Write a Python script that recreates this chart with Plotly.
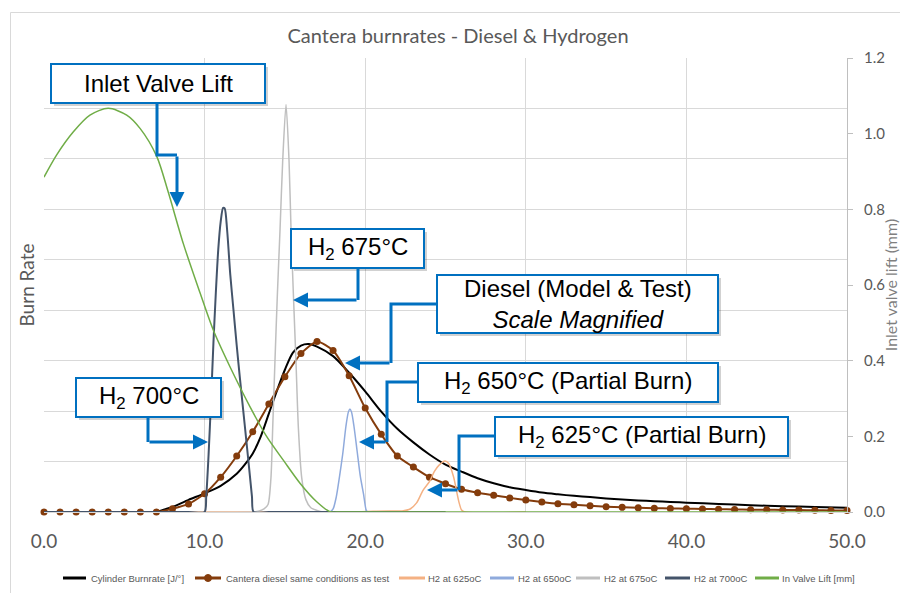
import plotly.graph_objects as go

# ---------------------------------------------------------------- data
series_names = [
    "Cylinder Burnrate [J/°]",
    "Cantera diesel same conditions as test",
    "H2 at 625oC",
    "H2 at 650oC",
    "H2 at 675oC",
    "H2 at 700oC",
    "In Valve Lift [mm]",
]

# measured cylinder burn rate (crank angle, burn rate)
cyl_x = [0, 7, 7.5, 8, 9, 10, 11, 12, 12.5, 13, 13.5, 14, 14.5, 15, 15.5, 16, 16.5, 17,
         18, 19, 20, 21, 22, 23, 24, 25, 26, 27, 28, 29, 30, 31, 32, 33, 34, 35,
         36, 37, 38, 39, 40, 42, 44, 46, 48, 50]
cyl_rate = [0, 0, 0.5, 1.0, 2.4, 3.7, 5.2, 7.6, 9.4, 11.6, 15.0, 19.5, 24.0, 28.2, 31.6,
            33.0, 33.3, 32.8, 30.9, 27.6, 23.9, 19.9, 16.5, 13.8, 11.4, 9.4, 8.0,
            6.7, 5.7, 4.9, 4.35, 3.85, 3.5, 3.2, 2.95, 2.7, 2.5, 2.3, 2.15, 2.0,
            1.85, 1.6, 1.35, 1.15, 1.0, 0.85]

# Cantera diesel model, one point per degree
diesel_x = list(range(0, 51))
diesel_rate = [0, 0, 0, 0, 0, 0, 0, 0, 0.65, 1.6, 3.6, 6.9, 11.1, 15.9, 21.4, 26.8,
               31.4, 33.8, 32.0, 27.0, 20.6, 15.4, 11.1, 8.9, 6.9, 5.6, 4.5, 3.8,
               3.3, 2.8, 2.4, 2.0, 1.65, 1.45, 1.25, 1.05, 0.93, 0.82, 0.75, 0.7,
               0.65, 0.6, 0.55, 0.5, 0.47, 0.44, 0.41, 0.38, 0.35, 0.32, 0.3]

# hydrogen burn rates at four intake temperatures
h2_625_x = [0, 19.5, 20.5, 21.5, 22.3, 22.8, 23.2, 23.6, 24.0, 24.3, 24.6, 24.97,
            25.2, 25.5, 25.7, 25.85, 26.0, 26.2, 30]
h2_625 = [0, 0, 0.15, 0.2, 0.2, 0.6, 1.8, 4.3, 6.0, 8.0, 9.3, 10.1, 9.6, 7.0, 4.0,
          1.8, 0.4, 0, 0]

h2_650_x = [0, 17.8, 18.0, 18.2, 18.4, 18.6, 18.8, 18.95, 19.05, 19.15, 19.3, 19.5,
            19.7, 19.9, 20.05, 20.15, 25]
h2_650 = [0, 0, 0.6, 3.0, 7.0, 11.5, 17.0, 19.8, 20.4, 19.8, 17.0, 12.0, 7.0, 3.5,
          0.5, 0, 0]

h2_675_x = [0, 13.0, 13.4, 13.7, 13.95, 14.13, 14.24, 14.38, 14.53, 14.70, 14.86,
            15.07, 15.26, 15.38, 15.53, 15.69, 15.84, 16.05, 16.3, 16.6, 17.0, 17.4, 25]
h2_675 = [0, 0, 0.2, 0.6, 1.5, 6.7, 16.6, 29.8, 43.0, 56.2, 69.4, 80.8, 69.4, 56.2,
          43.0, 29.8, 16.6, 6.7, 2.5, 0.9, 0.3, 0, 0]

h2_700_x = [0, 9.0, 10.0, 10.1, 10.25, 10.4, 10.55, 10.7, 10.85, 11.0, 11.15, 11.25,
            11.4, 11.6, 11.8, 12.0, 12.2, 12.4, 12.6, 12.8, 12.95, 13.05, 14.0, 25]
h2_700 = [0, 0, 0, 3.0, 11.5, 22.0, 33.5, 43.5, 52.0, 57.5, 60.3, 60.2, 56.0, 47.0,
          40.0, 33.0, 26.5, 20.3, 14.1, 7.8, 3.0, 0, 0, 0]

# inlet valve lift (mm), secondary axis
lift_x = [0, 0.79, 1.83, 2.86, 4.0, 5.15, 5.98, 7.02, 7.74, 8.67, 9.71, 10.54,
          11.58, 12.83, 13.87, 14.9, 15.94, 16.98, 17.8, 18.5, 50]
lift_mm = [0.885, 0.944, 1.005, 1.049, 1.067, 1.049, 1.014, 0.94, 0.845, 0.71,
           0.58, 0.481, 0.384, 0.278, 0.199, 0.137, 0.076, 0.027, 0.001, 0, 0]

# ---------------------------------------------------------------- styling
colors = ["#000000", "#843C0C", "#F4B183", "#8FAADC", "#BFBFBF", "#44546A", "#70AD47"]
GRID = "#D9D9D9"
TEXT = "#595959"
CALLOUT = "#0070C0"
TICK_FONT = "Lato, Carlito, sans-serif"

W, H = 900, 593
PLOT_L, PLOT_R, PLOT_T, PLOT_B = 44, 847, 58, 512


def fx(p):
    """pixel column -> paper x"""
    return (p - PLOT_L) / (PLOT_R - PLOT_L)


def fy(p):
    """pixel row -> paper y"""
    return (PLOT_B - p) / (PLOT_B - PLOT_T)


fig = go.Figure()

fig.add_trace(go.Scatter(x=cyl_x, y=cyl_rate, name=series_names[0], mode="lines",
                         line=dict(color=colors[0], width=2, shape="spline", smoothing=0.8)))
fig.add_trace(go.Scatter(x=diesel_x, y=diesel_rate, name=series_names[1], mode="lines+markers",
                         line=dict(color=colors[1], width=2, shape="spline", smoothing=0.6),
                         marker=dict(color=colors[1], size=7), cliponaxis=False))
for i, (xs, ys) in enumerate([(h2_625_x, h2_625), (h2_650_x, h2_650),
                              (h2_675_x, h2_675), (h2_700_x, h2_700)]):
    fig.add_trace(go.Scatter(x=xs, y=ys, name=series_names[2 + i], mode="lines",
                             line=dict(color=colors[2 + i], width=2 if i == 3 else 1.5,
                                       shape="spline", smoothing=0.7)))
fig.add_trace(go.Scatter(x=lift_x, y=lift_mm, name=series_names[6], mode="lines", yaxis="y2",
                         line=dict(color=colors[6], width=1.5, shape="spline", smoothing=0.8)))

# ---------------------------------------------------------------- callouts
callouts = [
    dict(text="Inlet Valve Lift", box=(51, 64, 265, 103),
         path=[(157, 103), (157, 155), (177, 155)], tip=(177, 207)),
    dict(text="H<sub>2</sub> 675°C", box=(291, 229, 424, 268),
         path=[(358, 268), (358, 300)], tip=(293, 300)),
    dict(text="Diesel (Model & Test)<br><i>Scale Magnified</i>", box=(437, 275, 718, 333),
         path=[(437, 304), (391, 304), (391, 363)], tip=(345, 363)),
    dict(text="H<sub>2</sub> 650°C (Partial Burn)", box=(418, 363, 718, 402),
         path=[(418, 382), (387, 382), (387, 442)], tip=(359, 442)),
    dict(text="H<sub>2</sub> 625°C (Partial Burn)", box=(495, 417, 788, 456),
         path=[(495, 436), (459, 436), (459, 490)], tip=(427, 490)),
    dict(text="H<sub>2</sub> 700°C", box=(76, 378, 221, 417),
         path=[(148, 417), (148, 442)], tip=(208, 442)),
]

shapes = [
    # chart area frame
    dict(type="rect", xref="paper", yref="paper", x0=fx(10.5), x1=fx(905), y0=fy(12.5),
         y1=fy(600), line=dict(color=GRID, width=1), fillcolor="rgba(0,0,0,0)", layer="below"),
]
annotations = []

for c in callouts:
    x0, y0, x1, y1 = c["box"]
    shapes.append(dict(type="rect", xref="paper", yref="paper",
                       x0=fx(x0 + 3), x1=fx(x1 + 3), y0=fy(y0 + 3), y1=fy(y1 + 3),
                       line=dict(width=0), fillcolor="rgba(0,0,0,0.18)", layer="above"))
    shapes.append(dict(type="rect", xref="paper", yref="paper",
                       x0=fx(x0), x1=fx(x1), y0=fy(y0), y1=fy(y1),
                       line=dict(color=CALLOUT, width=2), fillcolor="white", layer="above"))
    pts = c["path"]
    if len(pts) > 1:
        d = "M " + " L ".join(f"{fx(px)},{fy(py)}" for px, py in pts)
        shapes.append(dict(type="path", xref="paper", yref="paper", path=d,
                           line=dict(color=CALLOUT, width=3), layer="above"))
    lx, ly = pts[-1]
    tx, ty = c["tip"]
    annotations.append(dict(xref="paper", yref="paper", x=fx(tx), y=fy(ty), text="",
                            showarrow=True, axref="pixel", ayref="pixel",
                            ax=lx - tx, ay=ly - ty, arrowhead=2, arrowsize=1,
                            arrowwidth=3, arrowcolor=CALLOUT, standoff=0))
    annotations.append(dict(xref="paper", yref="paper", x=fx((x0 + x1) / 2),
                            y=fy((y0 + y1) / 2), text=c["text"], showarrow=False,
                            xanchor="center", yanchor="middle",
                            font=dict(family="Liberation Sans, Arial, sans-serif",
                                      size=24, color="black")))

# ---------------------------------------------------------------- legend row
legend_slots = [(63, 86, 89), (195, 221, 224), (399, 425, 426), (490, 514, 516),
                (576, 600, 602), (665, 690, 692), (755, 779, 780)]
LEG_Y = 578
for name, col, (l0, l1, t0) in zip(series_names, colors, legend_slots):
    shapes.append(dict(type="line", xref="paper", yref="paper", x0=fx(l0), x1=fx(l1),
                       y0=fy(LEG_Y), y1=fy(LEG_Y), line=dict(color=col, width=3)))
    annotations.append(dict(xref="paper", yref="paper", x=fx(t0), y=fy(LEG_Y), text=name,
                            showarrow=False, xanchor="left", yanchor="middle",
                            font=dict(family="Liberation Sans, Arial, sans-serif",
                                      size=9.5, color=TEXT)))
# marker in the diesel legend key
mx = (legend_slots[1][0] + legend_slots[1][1]) / 2
shapes.append(dict(type="circle", xref="paper", yref="paper", x0=fx(mx - 3.5), x1=fx(mx + 3.5),
                   y0=fy(LEG_Y + 3.5), y1=fy(LEG_Y - 3.5), fillcolor=colors[1],
                   line=dict(color=colors[1], width=1)))

fig.update_layout(
    width=W, height=H,
    margin=dict(l=PLOT_L, r=W - PLOT_R, t=PLOT_T, b=H - PLOT_B, autoexpand=False),
    paper_bgcolor="white", plot_bgcolor="white",
    showlegend=False,
    title=dict(text="Cantera burnrates - Diesel & Hydrogen", xref="container", x=458 / W,
               xanchor="center", yref="container", y=1 - 36 / H, yanchor="middle",
               font=dict(family=TICK_FONT, size=20, color=TEXT)),
    xaxis=dict(range=[0, 50], dtick=10, tickformat=".1f", showgrid=True, gridcolor=GRID,
               gridwidth=1, zeroline=False, showline=True, linecolor=GRID, ticks="",
               automargin=False,
               tickfont=dict(family=TICK_FONT, size=19, color=TEXT), ticklabelstandoff=12),
    yaxis=dict(range=[0, 90], dtick=10, showticklabels=False, showgrid=True, gridcolor=GRID,
               zeroline=False, showline=False, automargin=False,
               title=dict(text="Burn Rate", standoff=3,
                          font=dict(family=TICK_FONT, size=19, color=TEXT))),
    yaxis2=dict(overlaying="y", side="right", range=[0, 1.2], dtick=0.2, tickformat=".1f",
                showgrid=False, zeroline=False, showline=True, linecolor="#BFBFBF",
                ticks="outside", ticklen=5, tickcolor="#BFBFBF", ticklabelstandoff=8,
                automargin=False,
                tickfont=dict(family=TICK_FONT, size=15, color=TEXT),
                title=dict(text="Inlet valve lift (mm)", standoff=4,
                           font=dict(family=TICK_FONT, size=16, color="#7F7F7F"))),
    shapes=shapes,
    annotations=annotations,
)

fig.write_html("out.html")
